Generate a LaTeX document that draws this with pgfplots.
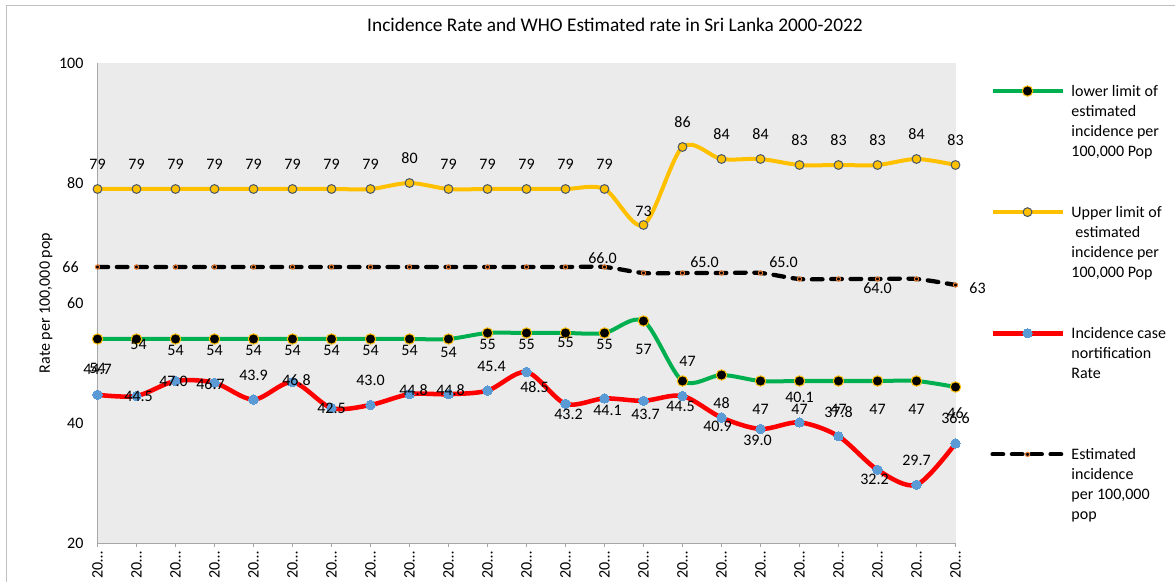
\documentclass[border=0pt]{standalone}
\usepackage{fontspec}
\setmainfont{Carlito}
\usepackage{pgfplots}
\usepackage{pgfplotstable}
\pgfplotsset{compat=1.18}

\definecolor{cGreen}{RGB}{0,176,80}
\definecolor{cGold}{RGB}{255,192,0}
\definecolor{cRed}{RGB}{255,0,0}
\definecolor{cBlue}{RGB}{91,155,213}
\definecolor{cOrange}{RGB}{237,125,49}
\definecolor{cEdge}{RGB}{68,84,106}
\definecolor{cPlot}{RGB}{235,235,235}
\definecolor{cAxis}{RGB}{166,166,166}
\definecolor{cFrame}{RGB}{191,191,191}

% x = year (0 = 2000), y = rate, lbl = data label, dx/dy = label offset (px)
\pgfplotstableread{
x y lbl dx dy
0 54 54 0 -29
1 54 54 2 -5
2 54 54 0 -11
3 54 54 0 -11
4 54 54 0 -11
5 54 54 0 -11
6 54 54 0 -11
7 54 54 0 -11
8 54 54 0 -11
9 54 54 0 -13
10 55 55 0 -11
11 55 55 0 -11
12 55 55 0 -9
13 55 55 0 -11
14 57 57 0 -28
15 47 47 5 20
16 48 48 0 -28
17 47 47 0 -28
18 47 47 0 -28
19 47 47 0 -28
20 47 47 0 -28
21 47 47 0 -28
22 46 46 0 -26
}\tblLow

\pgfplotstableread{
x y lbl dx dy
0 79 79 0 25
1 79 79 0 25
2 79 79 0 25
3 79 79 0 25
4 79 79 0 25
5 79 79 0 25
6 79 79 0 25
7 79 79 0 25
8 80 80 0 25
9 79 79 0 25
10 79 79 0 25
11 79 79 0 25
12 79 79 0 25
13 79 79 0 25
14 73 73 0 14
15 86 86 0 25
16 84 84 0 25
17 84 84 0 25
18 83 83 0 25
19 83 83 0 25
20 83 83 0 25
21 84 84 0 25
22 83 83 0 25
}\tblUp

\pgfplotstableread{
x y lbl dx dy
0 44.7 44.7 0 25
1 44.5 44.5 2 0
2 47.0 47.0 -2 0
3 46.7 46.7 -4 -1
4 43.9 43.9 0 24
5 46.8 46.8 4 2
6 42.5 42.5 0 0
7 43.0 43.0 0 25
8 44.8 44.8 4 4
9 44.8 44.8 2 4
10 45.4 45.4 4 24
11 48.5 48.5 8 -15
12 43.2 43.2 3 -11
13 44.1 44.1 3 -12
14 43.7 43.7 2 -14
15 44.5 44.5 -2 -10
16 40.9 40.9 -4 -9
17 39.0 39.0 -3 -11
18 40.1 40.1 0 25
19 37.8 37.8 0 24
20 32.2 32.2 -3 -10
21 29.7 29.7 0 24
22 36.6 36.6 0 25
}\tblInc

\pgfplotstableread{
x y lbl dx dy
0 66 66 -27 0
1 66 {} 0 0
2 66 {} 0 0
3 66 {} 0 0
4 66 {} 0 0
5 66 {} 0 0
6 66 {} 0 0
7 66 {} 0 0
8 66 {} 0 0
9 66 {} 0 0
10 66 {} 0 0
11 66 {} 0 0
12 66 {} 0 0
13 66 66.0 -2 9
14 65 {} 0 0
15 65 65.0 22 11
16 65 {} 0 0
17 65 65.0 23 11
18 64 {} 0 0
19 64 {} 0 0
20 64 64.0 0 -9
21 64 {} 0 0
22 63 63 22 -3
}\tblEst

\pgfplotsset{
  lbl/.style={
    point meta=explicit symbolic,
    nodes near coords,
    visualization depends on={\thisrow{dx}\as\ldx},
    visualization depends on={\thisrow{dy}\as\ldy},
    every node near coord/.append style={anchor=center, text=black,
      font=\fontsize{12}{14}\selectfont, inner sep=0pt,
      xshift={0.75*(\ldx)*1pt}, yshift={0.75*(\ldy)*1pt}},
  },
  sLow/.style={cGreen, line width=3pt, mark=*, mark size=3.9pt,
    mark options={fill=black, draw=cGold, line width=0.75pt}},
  sUp/.style={cGold, line width=3pt, mark=*, mark size=3.3pt,
    mark options={fill=cGold, draw=cEdge, line width=0.75pt}},
  sInc/.style={cRed, line width=3.4pt, mark=*, mark size=3.5pt,
    mark options={fill=cBlue, draw=cBlue, line width=0pt}},
  sEst/.style={black, line width=3.2pt, line cap=round,
    dash pattern=on 8pt off 6.5pt, mark=*, mark size=1.6pt,
    mark options={fill=black, draw=cOrange, line width=0.75pt, solid}},
}

\begin{document}
\begin{tikzpicture}
\useasboundingbox (-73.125pt,-29.25pt) rectangle (808.125pt,407.25pt);
\draw[cFrame, line width=0.75pt] (-67.875pt,-29.25pt) -- (-67.875pt,402.75pt) -- (808.125pt,402.75pt);
\begin{axis}[
  at={(0pt,0pt)}, anchor=south west,
  scale only axis, width=643.5pt, height=360pt,
  xmin=0, xmax=22, ymin=20, ymax=100,
  clip=false,
  font=\fontsize{12}{14}\selectfont,
  /pgf/number format/assume math mode=true,
  axis x line*=bottom, axis y line*=left,
  axis line style={draw=cAxis, line width=0.75pt, -},
  axis background/.style={fill=cPlot},
  ytick={20,40,60,80,100},
  xtick={0,...,22},
  xticklabel={20…},
  xticklabel style={rotate=90, anchor=east},
  yticklabel style={xshift=-4pt},
  tick align=outside, major tick length=3pt,
  ytick style={draw=none},
  xtick style={draw=cAxis, line width=0.75pt},
  title={Incidence Rate and WHO Estimated rate in Sri Lanka 2000-2022},
  title style={at={(axis description cs:0.6031,1)}, anchor=center, yshift=22.5pt,
    font=\fontsize{14.5}{17}\selectfont},
  ylabel={Rate per 100,000 pop},
  ylabel style={at={(axis description cs:-0.060,0.5)}, anchor=center},
  legend cell align=left,
  legend style={at={(axis description cs:1.0402,0.9542)}, anchor=north west,
    draw=none, fill=none, inner sep=0pt, row sep=81pt, column sep=5pt,
    cells={anchor=base west}, nodes={inner sep=0pt},
    font=\fontsize{12}{15}\selectfont},
  legend image code/.code={
    \draw[mark repeat=2, mark phase=2, #1, yshift=4pt]
      plot coordinates {(0pt,0pt) (26.25pt,0pt) (52.5pt,0pt)};
  },
]
\addplot[sLow, smooth, lbl, forget plot] table[x=x, y=y, meta=lbl] {\tblLow};
\addplot[sUp, smooth, lbl, forget plot] table[x=x, y=y, meta=lbl] {\tblUp};
\addplot[sInc, smooth, lbl, forget plot] table[x=x, y=y, meta=lbl] {\tblInc};
\addplot[sEst, smooth, lbl, forget plot] table[x=x, y=y, meta=lbl] {\tblEst};

\addlegendimage{sLow}
\addlegendentry{\parbox[t][60pt][t]{85pt}{lower limit of\\estimated\\incidence per\\100,000 Pop}}
\addlegendimage{sUp}
\addlegendentry{\parbox[t][60pt][t]{85pt}{Upper limit of\\\hspace*{0.25em}estimated\\incidence per\\100,000 Pop}}
\addlegendimage{sInc}
\addlegendentry{\parbox[t][60pt][t]{85pt}{Incidence case\\nortification\\Rate}}
\addlegendimage{sEst}
\addlegendentry{\parbox[t][60pt][t]{85pt}{Estimated\\incidence\\per 100,000\\pop}}
\end{axis}
\end{tikzpicture}
\end{document}
